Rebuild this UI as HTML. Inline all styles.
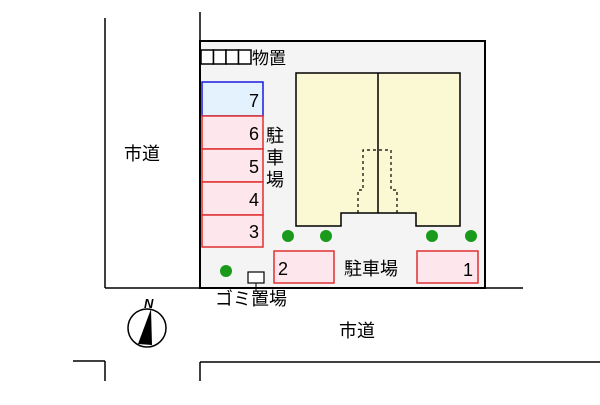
<!DOCTYPE html>
<html><head><meta charset="utf-8"><style>
body{margin:0;background:#fff}
svg text{font-family:"Liberation Sans","Noto Sans CJK JP",sans-serif;fill:#000}
</style></head><body>
<svg width="600" height="400" viewBox="0 0 600 400" xmlns="http://www.w3.org/2000/svg">
<g stroke="#000" stroke-width="1.5" fill="none">
<line x1="105" y1="18" x2="105" y2="288"/>
<line x1="200" y1="12" x2="200" y2="41"/>
<line x1="105" y1="288" x2="523" y2="288"/>
<line x1="73" y1="361" x2="105" y2="361"/>
<line x1="105" y1="361" x2="105" y2="381"/>
<line x1="200" y1="362" x2="600" y2="362"/>
<line x1="200" y1="362" x2="200" y2="381"/>
</g>
<rect x="200" y="41" width="285" height="247" fill="#f4f4f4" stroke="#000" stroke-width="2"/>
<path d="M296 73 H460 V226 H416 V213 H341 V226 H296 Z" fill="#fbf8d4" stroke="#000" stroke-width="1.5"/>
<line x1="378" y1="73" x2="378" y2="213" stroke="#000" stroke-width="1.5"/>
<path d="M358 213 V190 H363 V150 H391 V190 H397 V213" fill="none" stroke="#000" stroke-width="1.2" stroke-dasharray="3,3"/>
<g fill="#fff" stroke="#000" stroke-width="1.5">
<rect x="201" y="50" width="12.5" height="14"/><rect x="213.5" y="50" width="12.5" height="14"/><rect x="226" y="50" width="12.5" height="14"/><rect x="238.5" y="50" width="12.5" height="14"/>
</g>
<text x="252" y="64" font-size="17">物置</text>
<rect x="202" y="82" width="61" height="34" fill="#e3f2fc" stroke="#1a1adc" stroke-width="1.5"/>
<g fill="#fde6ec" stroke="#e03030" stroke-width="1.5">
<rect x="202" y="116" width="61" height="33"/><rect x="202" y="149" width="61" height="33"/><rect x="202" y="182" width="61" height="33"/><rect x="202" y="215" width="61" height="32"/>
<rect x="274" y="251" width="60" height="32"/><rect x="417" y="251" width="61" height="32"/>
</g>
<g font-size="18" text-anchor="end">
<text x="259" y="107">7</text><text x="259" y="140">6</text><text x="259" y="173">5</text><text x="259" y="206">4</text><text x="259" y="238">3</text><text x="473" y="276">1</text>
</g>
<text x="278" y="275" font-size="18">2</text>
<g font-size="18"><text x="266" y="142">駐</text><text x="266" y="164">車</text><text x="266" y="186">場</text></g>
<text x="344" y="275" font-size="18">駐車場</text>
<g fill="#1a9a1a"><circle cx="288" cy="236" r="6"/><circle cx="326" cy="236" r="6"/><circle cx="432" cy="236" r="6"/><circle cx="471" cy="236" r="6"/><circle cx="226" cy="271" r="6"/></g>
<rect x="248" y="272" width="16" height="11" fill="#fff" stroke="#000" stroke-width="1.2"/>
<line x1="256" y1="283" x2="256" y2="292" stroke="#000" stroke-width="1"/>
<text x="215" y="305" font-size="18">ゴミ置場</text>
<text x="124" y="160" font-size="18">市道</text>
<text x="339" y="337" font-size="18">市道</text>
<circle cx="147" cy="328" r="19" fill="#fff" stroke="#000" stroke-width="1.5"/>
<path d="M151 309 L138 344 L152 345 Z" fill="#000"/>
<text x="144" y="308" font-size="13" font-style="italic" font-weight="bold">N</text>
</svg>
</body></html>
